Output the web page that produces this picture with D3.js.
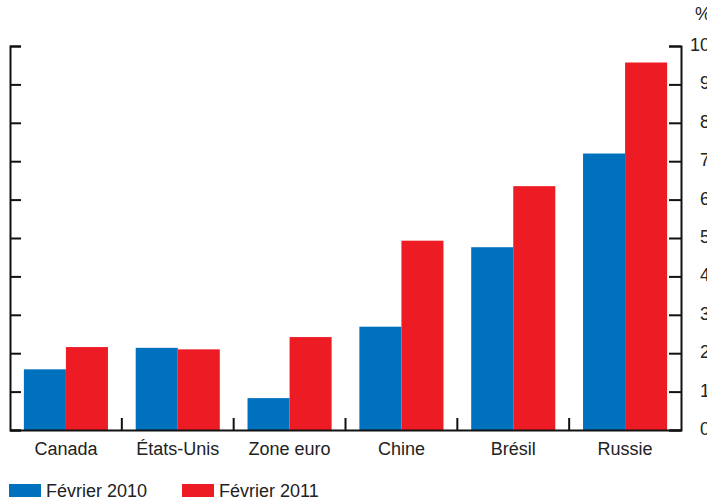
<!DOCTYPE html>
<html>
<head>
<meta charset="utf-8">
<script src="https://cdn.jsdelivr.net/npm/d3@7"></script>
<style>
  body { margin: 0; background: #fff; }
  svg { display: block; font-family: "Liberation Sans", Arial, sans-serif; }
  .axis path, .axis line { stroke: #111; stroke-width: 2; }
  .axis text { font-size: 18px; fill: #222; }
</style>
</head>
<body>
<div id="chart"></div>
<script>
// categories and series
var categories = ["Canada", "États-Unis", "Zone euro", "Chine", "Brésil", "Russie"];
var seriesNames = ["Février 2010", "Février 2011"];
var fev2010 = [1.58, 2.14, 0.83, 2.69, 4.76, 7.20];
var fev2011 = [2.16, 2.10, 2.42, 4.93, 6.35, 9.57];
var yTicks = [0, 1, 2, 3, 4, 5, 6, 7, 8, 9, 10];
var colors = ["#0071bc", "#ed1c24"];

var width = 707, height = 502;
var plotLeft = 10, plotRight = 681, plotTop = 46, plotBottom = 430;

var data = categories.map(function(c, i) {
  return { cat: c, values: [fev2010[i], fev2011[i]] };
});

var svg = d3.select("#chart").append("svg")
  .attr("width", width)
  .attr("height", height);

var x = d3.scaleBand()
  .domain(categories)
  .range([plotLeft, plotRight])
  .padding(0);

var xSub = d3.scaleBand()
  .domain(seriesNames)
  .range([0, x.bandwidth()])
  .paddingInner(0)
  .paddingOuter(0.33);

var y = d3.scaleLinear()
  .domain([0, 10])
  .range([plotBottom, plotTop]);

// bars
var groups = svg.selectAll("g.cat")
  .data(data)
  .enter().append("g")
  .attr("class", "cat")
  .attr("transform", function(d) { return "translate(" + x(d.cat) + ",0)"; });

groups.selectAll("rect")
  .data(function(d) { return d.values.map(function(v, i) { return { s: seriesNames[i], v: v, i: i }; }); })
  .enter().append("rect")
  .attr("x", function(d) { return xSub(d.s); })
  .attr("width", xSub.bandwidth())
  .attr("y", function(d) { return y(d.v); })
  .attr("height", function(d) { return y(0) - y(d.v); })
  .attr("fill", function(d) { return colors[d.i]; });

// left axis (no labels, ticks inward)
svg.append("g")
  .attr("class", "axis")
  .attr("transform", "translate(" + plotLeft + ",0)")
  .call(d3.axisLeft(y).tickValues(yTicks).tickSize(-11).tickFormat(""));

// right axis with labels
var yRight = svg.append("g")
  .attr("class", "axis")
  .attr("transform", "translate(" + plotRight + ",0)")
  .call(d3.axisRight(y).tickValues(yTicks).tickSize(-12).tickFormat(d3.format("d")));
yRight.selectAll("text")
  .attr("x", 29)
  .attr("dy", "0.25em")
  .style("text-anchor", "end");

svg.append("text")
  .attr("x", 695)
  .attr("y", 20)
  .style("font-size", "18px")
  .style("fill", "#222")
  .text("%");

// bottom axis: labels at band centres
var xAxis = svg.append("g")
  .attr("class", "axis")
  .attr("transform", "translate(0," + plotBottom + ")")
  .call(d3.axisBottom(x).tickSize(0).tickPadding(8));
xAxis.selectAll("text").attr("dy", "0.95em");

// separators between categories
svg.append("g")
  .attr("class", "axis")
  .selectAll("line")
  .data(categories.slice(1))
  .enter().append("line")
  .attr("x1", function(d) { return x(d); })
  .attr("x2", function(d) { return x(d); })
  .attr("y1", plotBottom)
  .attr("y2", plotBottom - 12);

// legend
var legendX = [9, 182];
var legend = svg.selectAll("g.legend")
  .data(seriesNames)
  .enter().append("g")
  .attr("class", "legend")
  .attr("transform", function(d, i) { return "translate(" + legendX[i] + ",484)"; });

legend.append("rect")
  .attr("width", 32)
  .attr("height", 13)
  .attr("fill", function(d, i) { return colors[i]; });

legend.append("text")
  .attr("x", 37)
  .attr("y", 13)
  .style("font-size", "18px")
  .style("fill", "#222")
  .text(function(d) { return d; });
</script>
</body>
</html>
